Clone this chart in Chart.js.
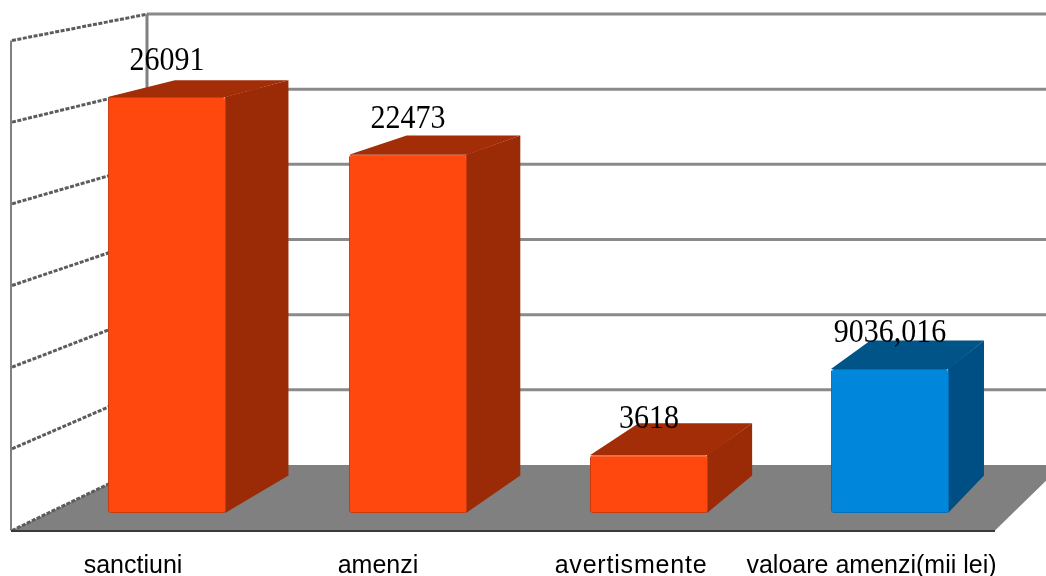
<!DOCTYPE html>
<html>
<head>
<meta charset="utf-8">
<style>html,body{margin:0;padding:0;background:#fff}canvas{display:block}</style>
<script src="https://cdn.jsdelivr.net/npm/chart.js@4/dist/chart.umd.js"></script>
</head>
<body>
<canvas id="c" width="1046" height="576"></canvas>
<script>
const categories = ['sanctiuni', 'amenzi', 'avertismente', 'valoare amenzi(mii lei)'];
const values = [26091, 22473, 3618, 9036.016];
const valueLabels = ['26091', '22473', '3618', '9036,016'];
const frontColors = ['#ff480d', '#ff480d', '#ff480d', '#0087dc'];
const frontEdges = ['#c93a0c', '#c93a0c', '#c93a0c', '#0070b8'];
const sideColors = ['#9b2a07', '#9b2a07', '#9b2a07', '#004f84'];
const topColors = ['#a22d07', '#a22d07', '#a22d07', '#005488'];
const yMax = 30000, yStep = 5000;
const labelNudge = [-34, -30, -18, -18.5];
const labelSpacing = ['0px', '0px', '0.8px', '0px'];

// projection of the bars' front plane on to their back plane
const bx = x => 0.962 * x + 71;
const by = y => 0.957 * y - 12.5;

function poly(ctx, pts, fill) {
  ctx.beginPath();
  pts.forEach((p, i) => i ? ctx.lineTo(p[0], p[1]) : ctx.moveTo(p[0], p[1]));
  ctx.closePath();
  ctx.fillStyle = fill;
  ctx.fill();
}

const scene = {
  id: 'scene',
  beforeDatasetsDraw(chart) {
    const ctx = chart.ctx, W = chart.width, y = chart.scales.y;
    const FL = 12, BL = 148, FB = 530.5, BB = 465, FH = 490, BH = 451;
    ctx.save();
    // floor
    poly(ctx, [[FL, FB], [995, FB], [1062, BB], [BL, BB]], '#808080');
    // back wall grid and left wall grid from the value axis ticks
    y.ticks.forEach(t => {
      const f = t.value / yMax;
      ctx.strokeStyle = '#8a8a8a';
      ctx.lineWidth = 3;
      ctx.setLineDash([]);
      if (f > 0) {
        ctx.beginPath();
        ctx.moveTo(BL, BB - f * BH);
        ctx.lineTo(W, BB - f * BH);
        ctx.stroke();
      }
      ctx.strokeStyle = '#5c5c5c';
      ctx.lineWidth = 3;
      ctx.setLineDash([4, 1.5]);
      ctx.beginPath();
      ctx.moveTo(FL, FB - f * FH);
      ctx.lineTo(BL, BB - f * BH);
      ctx.stroke();
    });
    ctx.setLineDash([]);
    ctx.strokeStyle = '#808080';
    ctx.lineWidth = 3;
    ctx.beginPath(); ctx.moveTo(BL - 1, BB - BH); ctx.lineTo(BL - 1, BB); ctx.stroke();
    ctx.lineWidth = 2;
    ctx.beginPath(); ctx.moveTo(FL - 1, FB - FH); ctx.lineTo(FL - 1, FB); ctx.stroke();
    ctx.strokeStyle = '#3a3a3a';
    ctx.beginPath(); ctx.moveTo(FL - 1, FB + 0.5); ctx.lineTo(995, FB + 0.5); ctx.stroke();
    // side and top faces of each bar
    chart.getDatasetMeta(0).data.forEach((b, i) => {
      const L = b.x - b.width / 2, R = b.x + b.width / 2, T = b.y, B = b.base;
      poly(ctx, [[R - 1, T], [bx(R), by(T)], [bx(R), by(B) - 3], [R - 1, B]], sideColors[i]);
      poly(ctx, [[L, T], [bx(L), by(T)], [bx(R), by(T)], [R, T]], topColors[i]);
    });
    ctx.restore();
  },
  afterDatasetsDraw(chart) {
    const ctx = chart.ctx, x = chart.scales.x;
    ctx.save();
    ctx.textAlign = 'center';
    ctx.textBaseline = 'alphabetic';
    ctx.fillStyle = '#000';
    ctx.font = '30px "Liberation Serif"';
    chart.getDatasetMeta(0).data.forEach((b, i) => {
      // the reference's value labels are slightly stretched vertically
      ctx.save();
      ctx.translate(b.x, b.y - 27);
      ctx.scale(1, 1.1);
      ctx.fillText(valueLabels[i], 0, 0);
      ctx.restore();
    });
    ctx.font = '25px "Liberation Sans"';
    categories.forEach((c, i) => {
      ctx.letterSpacing = labelSpacing[i];
      ctx.fillText(c, x.getPixelForValue(i) + labelNudge[i], 573);
    });
    ctx.restore();
  }
};

new Chart(document.getElementById('c'), {
  type: 'bar',
  data: {
    labels: categories,
    datasets: [{
      data: values,
      backgroundColor: frontColors,
      borderColor: frontEdges,
      borderWidth: 1,
      borderRadius: 3,
      borderSkipped: false,
      barPercentage: 0.49,
      categoryPercentage: 1
    }]
  },
  plugins: [scene],
  options: {
    responsive: false,
    animation: false,
    layout: { padding: { left: 46.5, right: 35.5, top: 34.7, bottom: 63 } },
    plugins: { legend: { display: false }, tooltip: { enabled: false }, title: { display: false } },
    scales: {
      x: { display: false },
      y: { display: false, min: 0, max: yMax, ticks: { stepSize: yStep } }
    }
  }
});
</script>
</body>
</html>
